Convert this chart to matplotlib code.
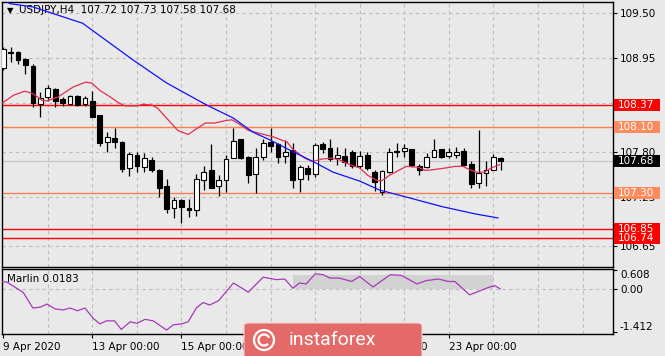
import numpy as np
import matplotlib
matplotlib.use('Agg')
from matplotlib import pyplot as plt
from matplotlib.patches import Rectangle, FancyBboxPatch, Ellipse, Arc
import matplotlib.transforms as mtransforms

# H4 bars, 9 Apr 2020 00:00 .. 24 Apr 2020 04:00
opens = [108.82, 109.01, 109.02, 108.93, 108.85, 108.38, 108.47, 108.57, 108.44, 108.38,
         108.48, 108.38, 108.42, 108.25, 107.92, 107.97, 107.92, 107.60, 107.76, 107.61,
         107.70, 107.58, 107.38, 107.11, 107.21, 107.11, 107.09, 107.45, 107.57, 107.38,
         107.45, 107.72, 107.95, 107.74, 107.53, 107.73, 107.92, 107.89, 107.75, 107.82,
         107.46, 107.60, 107.53, 107.89, 107.84, 107.72, 107.75, 107.80, 107.62, 107.76,
         107.55, 107.31, 107.55, 107.80, 107.81, 107.83, 107.62, 107.61, 107.73, 107.83,
         107.75, 107.76, 107.81, 107.65, 107.42, 107.54, 107.58, 107.72]
highs = [109.08, 109.08, 109.03, 108.95, 108.87, 108.53, 108.61, 108.58, 108.47, 108.49,
         108.49, 108.48, 108.54, 108.25, 108.04, 108.09, 107.93, 107.80, 107.79, 107.78,
         107.73, 107.59, 107.47, 107.25, 107.22, 107.22, 107.53, 107.62, 107.89, 107.51,
         107.76, 108.09, 107.95, 107.75, 107.84, 107.96, 108.09, 107.91, 107.94, 107.91,
         107.64, 107.64, 107.91, 107.92, 107.96, 107.86, 107.84, 107.82, 107.81, 107.80,
         107.57, 107.58, 107.84, 107.91, 107.89, 107.83, 107.65, 107.78, 107.95, 107.83,
         107.85, 107.86, 107.85, 107.68, 108.06, 107.69, 107.77, 107.73]
lows = [108.80, 108.90, 108.87, 108.75, 108.35, 108.22, 108.42, 108.35, 108.36, 108.37,
        108.36, 108.36, 108.22, 107.87, 107.80, 107.84, 107.55, 107.50, 107.55, 107.55,
        107.55, 107.24, 107.05, 106.99, 106.93, 107.00, 107.01, 107.33, 107.35, 107.26,
        107.31, 107.72, 107.71, 107.42, 107.29, 107.70, 107.80, 107.66, 107.66, 107.35,
        107.31, 107.45, 107.49, 107.78, 107.69, 107.64, 107.62, 107.60, 107.60, 107.57,
        107.32, 107.27, 107.54, 107.73, 107.73, 107.61, 107.51, 107.60, 107.73, 107.72,
        107.72, 107.72, 107.62, 107.36, 107.36, 107.38, 107.57, 107.58]
closes = [109.06, 109.02, 108.92, 108.86, 108.39, 108.46, 108.58, 108.42, 108.40, 108.48,
          108.37, 108.46, 108.23, 107.90, 107.98, 107.92, 107.59, 107.77, 107.62, 107.72,
          107.57, 107.36, 107.10, 107.21, 107.12, 107.09, 107.46, 107.55, 107.36, 107.45,
          107.71, 107.93, 107.72, 107.51, 107.73, 107.91, 107.87, 107.73, 107.79, 107.45,
          107.61, 107.53, 107.88, 107.83, 107.71, 107.76, 107.67, 107.62, 107.75, 107.60,
          107.43, 107.56, 107.80, 107.81, 107.84, 107.64, 107.58, 107.74, 107.82, 107.73,
          107.80, 107.79, 107.64, 107.41, 107.54, 107.57, 107.74, 107.68]

# moving averages (bar position, price)
ma_fast_x = [-0.2, 1.4, 2.9, 4.0, 5.2, 5.9, 7.4, 9.4, 11.1, 11.9, 13.0, 14.4, 15.5, 16.4,
             18.1, 18.8, 20.0, 20.8, 22.2, 23.5, 24.9, 26.2, 27.2, 28.5, 29.9, 30.8, 31.9,
             33.0, 36.4, 37.5, 38.2, 39.0, 40.6, 41.7, 42.9, 44.2, 45.3, 46.7, 48.0, 49.1,
             50.3, 50.9, 52.0, 53.2, 54.3, 55.9, 56.8, 57.9, 59.5, 60.8, 61.9, 62.8, 63.7,
             64.8, 65.7, 66.8]
ma_fast = [108.39, 108.49, 108.54, 108.51, 108.43, 108.42, 108.47, 108.59, 108.65, 108.64,
           108.55, 108.47, 108.40, 108.36, 108.36, 108.38, 108.37, 108.33, 108.19, 108.06,
           108.01, 108.09, 108.15, 108.15, 108.18, 108.19, 108.13, 108.06, 107.98, 107.94,
           107.92, 107.83, 107.72, 107.68, 107.71, 107.72, 107.70, 107.64, 107.60, 107.51,
           107.45, 107.44, 107.51, 107.57, 107.62, 107.61, 107.57, 107.58, 107.60, 107.62,
           107.62, 107.58, 107.55, 107.55, 107.60, 107.64]
ma_slow_x = [0.0, 0.9, 4.0, 10.7, 17.5, 22.0, 27.4, 31.0, 33.6, 36.0, 39.0, 41.7, 44.4,
             48.0, 50.7, 54.5, 59.0, 63.5, 66.6]
ma_slow = [109.66, 109.61, 109.57, 109.37, 108.92, 108.64, 108.37, 108.21, 108.04, 107.94,
           107.80, 107.68, 107.55, 107.44, 107.33, 107.24, 107.13, 107.04, 106.99]

# Marlin oscillator
marlin_x = [-0.4, 0.5, 2.7, 4.0, 5.0, 5.9, 7.0, 8.1, 9.0, 10.0, 11.0, 12.1, 13.0, 13.9,
            15.0, 15.9, 17.1, 18.0, 19.1, 20.2, 22.0, 22.9, 24.0, 24.9, 26.0, 26.9, 27.8,
            29.0, 31.0, 33.0, 35.0, 36.8, 37.9, 39.0, 39.9, 40.8, 42.0, 43.1, 44.0, 45.3,
            46.9, 48.0, 49.8, 52.1, 53.6, 55.7, 57.0, 58.6, 59.9, 60.8, 62.8, 65.5, 66.2,
            66.9]
marlin = [0.24, 0.22, -0.12, -0.63, -0.60, -0.50, -0.66, -0.69, -0.63, -0.72, -0.63, -0.96,
          -1.15, -1.05, -1.05, -1.33, -1.08, -1.13, -1.00, -1.05, -1.35, -1.18, -1.15, -1.08,
          -0.63, -0.45, -0.53, -0.39, 0.19, -0.11, 0.38, 0.30, 0.32, 0.02, 0.19, 0.16, 0.49,
          0.46, 0.35, 0.35, 0.24, 0.40, 0.06, 0.46, 0.44, 0.16, 0.27, 0.32, 0.24, 0.24,
          -0.20, 0.06, 0.10, 0.00]
zone_start, zone_end, zone_top = 39.0, 66.0, 0.46

red_levels = [108.37, 106.85, 106.74]
orange_levels = [108.10, 107.30]
last_price = 107.68
price_ticks = [109.50, 108.95, 108.40, 107.80, 107.25, 106.65]
price_tick_labels = ['109.50', '108.95', '', '107.80', '107.25', '106.65']
osc_ticks = [0.608, 0.0, -1.412]
osc_tick_labels = ['0.608', '0.00', '-1.412']
date_ticks = [0, 12, 24, 36, 48, 60]
date_labels = ['9 Apr 2020', '13 Apr 00:00', '15 Apr 00:00', '17 Apr 00:00',
               '21 Apr 00:00', '23 Apr 00:00']

bg = '#E9E9E9'
grid_c = '#BDBDBD'
coral = '#FF7F50'
W, H = 665, 356
fig = plt.figure(figsize=(W / 100, H / 100), dpi=100, facecolor=bg)


def px_rect(x0, y0, x1, y1):
    return [x0 / W, 1 - y1 / H, (x1 - x0) / W, (y1 - y0) / H]


ax = fig.add_axes(px_rect(2, 2, 613, 267), facecolor=bg)
ax2 = fig.add_axes(px_rect(2, 269, 613, 334), facecolor=bg)
xlim = (-0.16, 82.1)

for a in (ax, ax2):
    a.set_xlim(*xlim)
    for s in a.spines.values():
        s.set_color('black')
        s.set_linewidth(1)
    for gx in range(6, 83, 6):
        a.axvline(gx, color=grid_c, lw=0.8, ls=(0, (3, 3)), zorder=0)

# main price panel
ax.set_ylim(106.39, 109.63)
for t in price_ticks:
    ax.axhline(t, color=grid_c, lw=0.8, ls=(0, (3, 3)), zorder=0)
ax.axhline(last_price, color='#C4C4C4', lw=0.8, zorder=1)
for lv in red_levels:
    ax.axhline(lv, color='red', lw=1.0, zorder=1)
for lv in orange_levels:
    ax.axhline(lv, color=coral, lw=1.0, zorder=1)

idx = np.arange(len(opens))
o = np.array(opens)
c = np.array(closes)
ax.vlines(idx, lows, highs, color='black', lw=0.9, zorder=3)
up = c >= o
body_lo = np.minimum(o, c)
body_h = np.maximum(np.abs(c - o), 0.004)
ax.bar(idx, body_h, bottom=body_lo, width=0.64,
       color=np.where(up, 'white', 'black'), edgecolor='black', linewidth=0.8, zorder=4)

ax.plot(ma_fast_x, ma_fast, color='#E0304E', lw=0.9, zorder=5)
ax.plot(ma_slow_x, ma_slow, color='#1010FF', lw=0.9, zorder=5)

ax.set_xticks([])
ax.yaxis.tick_right()
ax.set_yticks(price_ticks)
ax.set_yticklabels(price_tick_labels)
ax.tick_params(axis='y', direction='out', length=3, width=0.8, pad=2,
               labelsize=7.5, colors='black')

trans = mtransforms.blended_transform_factory(ax.transAxes, ax.transData)
box_w = 46 / 611
box_h = 12 * (109.63 - 106.39) / 265
tags = [(lv, 'red') for lv in red_levels] + [(lv, '#FF8A5C') for lv in orange_levels]
tags.append((last_price, 'black'))
for lv, face in tags:
    ax.add_patch(Rectangle((1.002, lv - box_h / 2), box_w, box_h, transform=trans,
                           facecolor=face, edgecolor='none', clip_on=False, zorder=6))
    ax.text(1.008, lv, f'{lv:.2f}', transform=trans, color='white', fontsize=7.5,
            va='center', ha='left', zorder=7, clip_on=False)

ax.text(0.008, 0.985, '\u25bc', transform=ax.transAxes, fontsize=6, va='top', ha='left')
ax.text(0.028, 0.988, 'USDJPY,H4  107.72 107.73 107.58 107.68', transform=ax.transAxes,
        fontsize=7.5, va='top', ha='left')

# oscillator panel
ax2.set_ylim(-1.48, 0.648)
ax2.axhline(0, color=grid_c, lw=0.8, ls=(0, (3, 3)), zorder=0)
ax2.fill_between([zone_start, zone_end], 0, zone_top, color='#D2D2D2', lw=0, zorder=1)
ax2.plot(marlin_x, marlin, color='#A63AB8', lw=0.9, zorder=3)
ax2.yaxis.tick_right()
ax2.set_yticks(osc_ticks)
ax2.set_yticklabels(osc_tick_labels)
ax2.tick_params(axis='y', direction='out', length=3, width=0.8, pad=2,
                labelsize=7.5, colors='black')
ylabels = ax2.get_yticklabels()
ylabels[0].set_va('top')
ylabels[2].set_va('bottom')
ax2.set_xticks(date_ticks)
ax2.set_xticklabels(date_labels)
ax2.tick_params(axis='x', direction='out', length=3, width=0.8, pad=3,
                labelsize=7.5, colors='black')
for lbl in ax2.get_xticklabels():
    lbl.set_ha('left')
ax2.text(0.008, 0.85, 'Marlin 0.0183', transform=ax2.transAxes, fontsize=7.5,
         va='center', ha='left')

# instaforex badge
fig.add_artist(FancyBboxPatch((244 / W, -0.05), 178 / W, 33 / H + 0.05,
                              boxstyle='round,pad=0,rounding_size=0.008',
                              transform=fig.transFigure, facecolor='#E46A6A',
                              edgecolor='#F4D0D0', lw=0.8, zorder=10))
fig.add_artist(Ellipse((264 / W, 1 - 340 / H), 20 / W, 20 / H, transform=fig.transFigure,
                       facecolor='none', edgecolor='white', lw=1.6, zorder=11))
fig.add_artist(Arc((264 / W, 1 - 340 / H), 11 / W, 11 / H, theta1=40, theta2=300,
                   transform=fig.transFigure, edgecolor='white', lw=1.6, zorder=11))
fig.text(289 / W, 1 - 340 / H, 'instaforex', color='white', fontsize=14,
         family='Roboto', va='center', ha='left', zorder=11)

fig.savefig('out.png', dpi=100, facecolor=bg)
